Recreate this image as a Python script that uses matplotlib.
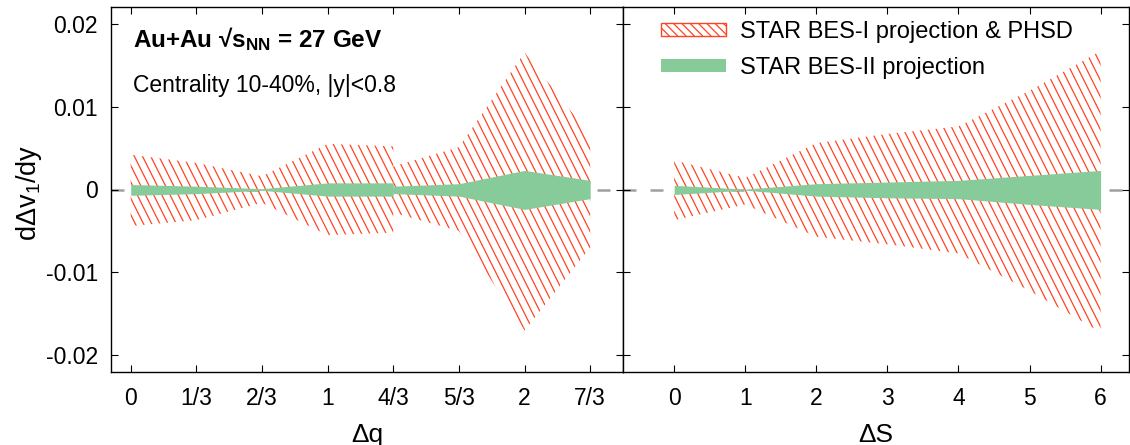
import numpy as np
import matplotlib

matplotlib.use("Agg")
import matplotlib.pyplot as plt
from matplotlib.collections import LineCollection
from matplotlib.patches import Patch

RED = "#ff4422"
GREEN = "#88cb9b"
GRAY = "#a0a0a0"

plt.rcParams["font.family"] = ["Liberation Sans", "DejaVu Sans"]
plt.rcParams["mathtext.fontset"] = "custom"
plt.rcParams["mathtext.rm"] = "Liberation Sans"
plt.rcParams["mathtext.it"] = "Liberation Sans:italic"
plt.rcParams["mathtext.bf"] = "Liberation Sans:bold"
plt.rcParams["hatch.color"] = RED
plt.rcParams["hatch.linewidth"] = 0.9

# ---- left panel: delta q, two separate segments joined at 4/3 ----
dq_a = [0, 1/3, 2/3, 1, 4/3]
dq_b = [4/3, 5/3, 2, 7/3]
bes1_q_a_hi = [0.0042, 0.0032, 0.0016, 0.0055, 0.0052]
bes1_q_a_lo = [-0.0044, -0.0037, -0.0016, -0.0055, -0.0052]
bes1_q_b_hi = [0.0028, 0.0051, 0.0165, 0.0065]
bes1_q_b_lo = [-0.0028, -0.0050, -0.0170, -0.0070]
bes2_q_a_hi = [0.0006, 0.0004, 0.0001, 0.0008, 0.0008]
bes2_q_a_lo = [-0.0007, -0.0005, -0.0001, -0.0008, -0.0008]
bes2_q_b_hi = [0.0004, 0.0007, 0.0023, 0.0011]
bes2_q_b_lo = [-0.0005, -0.0008, -0.0024, -0.0011]
dq_ticks = [0, 1/3, 2/3, 1, 4/3, 5/3, 2, 7/3]
dq_ticklabels = ["0", "1/3", "2/3", "1", "4/3", "5/3", "2", "7/3"]

# ---- right panel: delta S ----
ds = [0, 1, 2, 3, 4, 5, 6]
bes1_s_hi = [0.0035, 0.0014, 0.0056, 0.0067, 0.0076, 0.0119, 0.0167]
bes1_s_lo = [-0.0037, -0.0018, -0.0057, -0.0066, -0.0077, -0.0122, -0.0172]
bes2_s_hi = [0.0005, 0.00005, 0.0007, 0.0009, 0.0011, 0.0017, 0.0023]
bes2_s_lo = [-0.0006, -0.00008, -0.0008, -0.0010, -0.0011, -0.0018, -0.0024]

FIG_W, FIG_H, DPI = 11.3, 4.45, 100


def hatch_band(ax, x, lo, hi, step_px=8.2, slope=2.0):
    # steep "\" hatching, clipped to the band outline
    poly = ax.fill_between(x, lo, hi, facecolor="none", edgecolor="none", lw=0)
    bb = ax.get_position()
    w = bb.width * FIG_W * DPI
    h = bb.height * FIG_H * DPI
    run = h / slope / w
    segs = [[(x0 - run, 1), (x0, 0)] for x0 in np.arange(0, 1 + run, step_px / w)]
    lc = LineCollection(segs, colors=RED, linewidths=0.9,
                        transform=ax.transAxes, zorder=2)
    lc.set_clip_path(poly.get_paths()[0], ax.transData)
    ax.add_collection(lc, autolim=False)


def style_axes(ax):
    ax.axhline(0, color=GRAY, lw=1.8, dashes=(5.2, 5.6), zorder=1)
    ax.set_ylim(-0.022, 0.022)
    ax.set_yticks([-0.02, -0.01, 0, 0.01, 0.02])
    ax.tick_params(direction="in", length=5, width=0.8, top=True, right=True,
                   labelsize=16.5)
    ax.tick_params(axis="x", pad=11)
    ax.tick_params(axis="y", pad=9.5)
    for sp in ax.spines.values():
        sp.set_linewidth(1.0)


fig = plt.figure(figsize=(FIG_W, FIG_H), dpi=DPI)
bottom = 1 - 372 / 445
height = 365 / 445
ax1 = fig.add_axes([111 / 1130, bottom, 512 / 1130, height])
ax2 = fig.add_axes([623 / 1130, bottom, 506 / 1130, height])

# left panel
hatch_band(ax1, dq_a, bes1_q_a_lo, bes1_q_a_hi)
hatch_band(ax1, dq_b, bes1_q_b_lo, bes1_q_b_hi)
ax1.fill_between(dq_a, bes2_q_a_lo, bes2_q_a_hi, color=GREEN, lw=0, zorder=3)
ax1.fill_between(dq_b, bes2_q_b_lo, bes2_q_b_hi, color=GREEN, lw=0, zorder=3)
style_axes(ax1)
ax1.set_xlim(-0.1, 2.5)
ax1.set_xticks(dq_ticks)
ax1.set_xticklabels(dq_ticklabels)
ax1.set_yticklabels(["-0.02", "-0.01", "0", "0.01", "0.02"])
ax1.set_xlabel("Δq", fontsize=19, labelpad=9)
ax1.set_ylabel("dΔv$_1$/dy", fontsize=19.5)
ax1.yaxis.set_label_coords(-0.131, 0.49)
ax1.text(0.043, 0.891, "Au+Au √s$_{\\mathbf{NN}}$ = 27 GeV", transform=ax1.transAxes,
         fontsize=17.5, fontweight="bold", va="baseline")
ax1.text(0.043, 0.768, "Centrality 10-40%, |y|<0.8", transform=ax1.transAxes,
         fontsize=16.5, va="baseline")

# right panel
hatch_band(ax2, ds, bes1_s_lo, bes1_s_hi)
ax2.fill_between(ds, bes2_s_lo, bes2_s_hi, color=GREEN, lw=0, zorder=3)
style_axes(ax2)
ax2.set_xlim(-0.72, 6.4)
ax2.set_xticks(ds)
ax2.tick_params(labelleft=False)
ax2.set_xlabel("ΔS", fontsize=19, labelpad=9)

handles = [
    Patch(facecolor="white", edgecolor=RED, hatch="\\\\\\\\", lw=1.0),
    Patch(facecolor=GREEN, edgecolor="none"),
]
labels = ["STAR BES-I projection & PHSD", "STAR BES-II projection"]
ax2.legend(handles, labels, loc="upper left", bbox_to_anchor=(0.075, 0.963),
           frameon=False, fontsize=17, handlelength=2.75, handleheight=0.47,
           handletextpad=0.6, labelspacing=0.6, borderpad=0, borderaxespad=0)

fig.savefig("out.png", dpi=DPI)
